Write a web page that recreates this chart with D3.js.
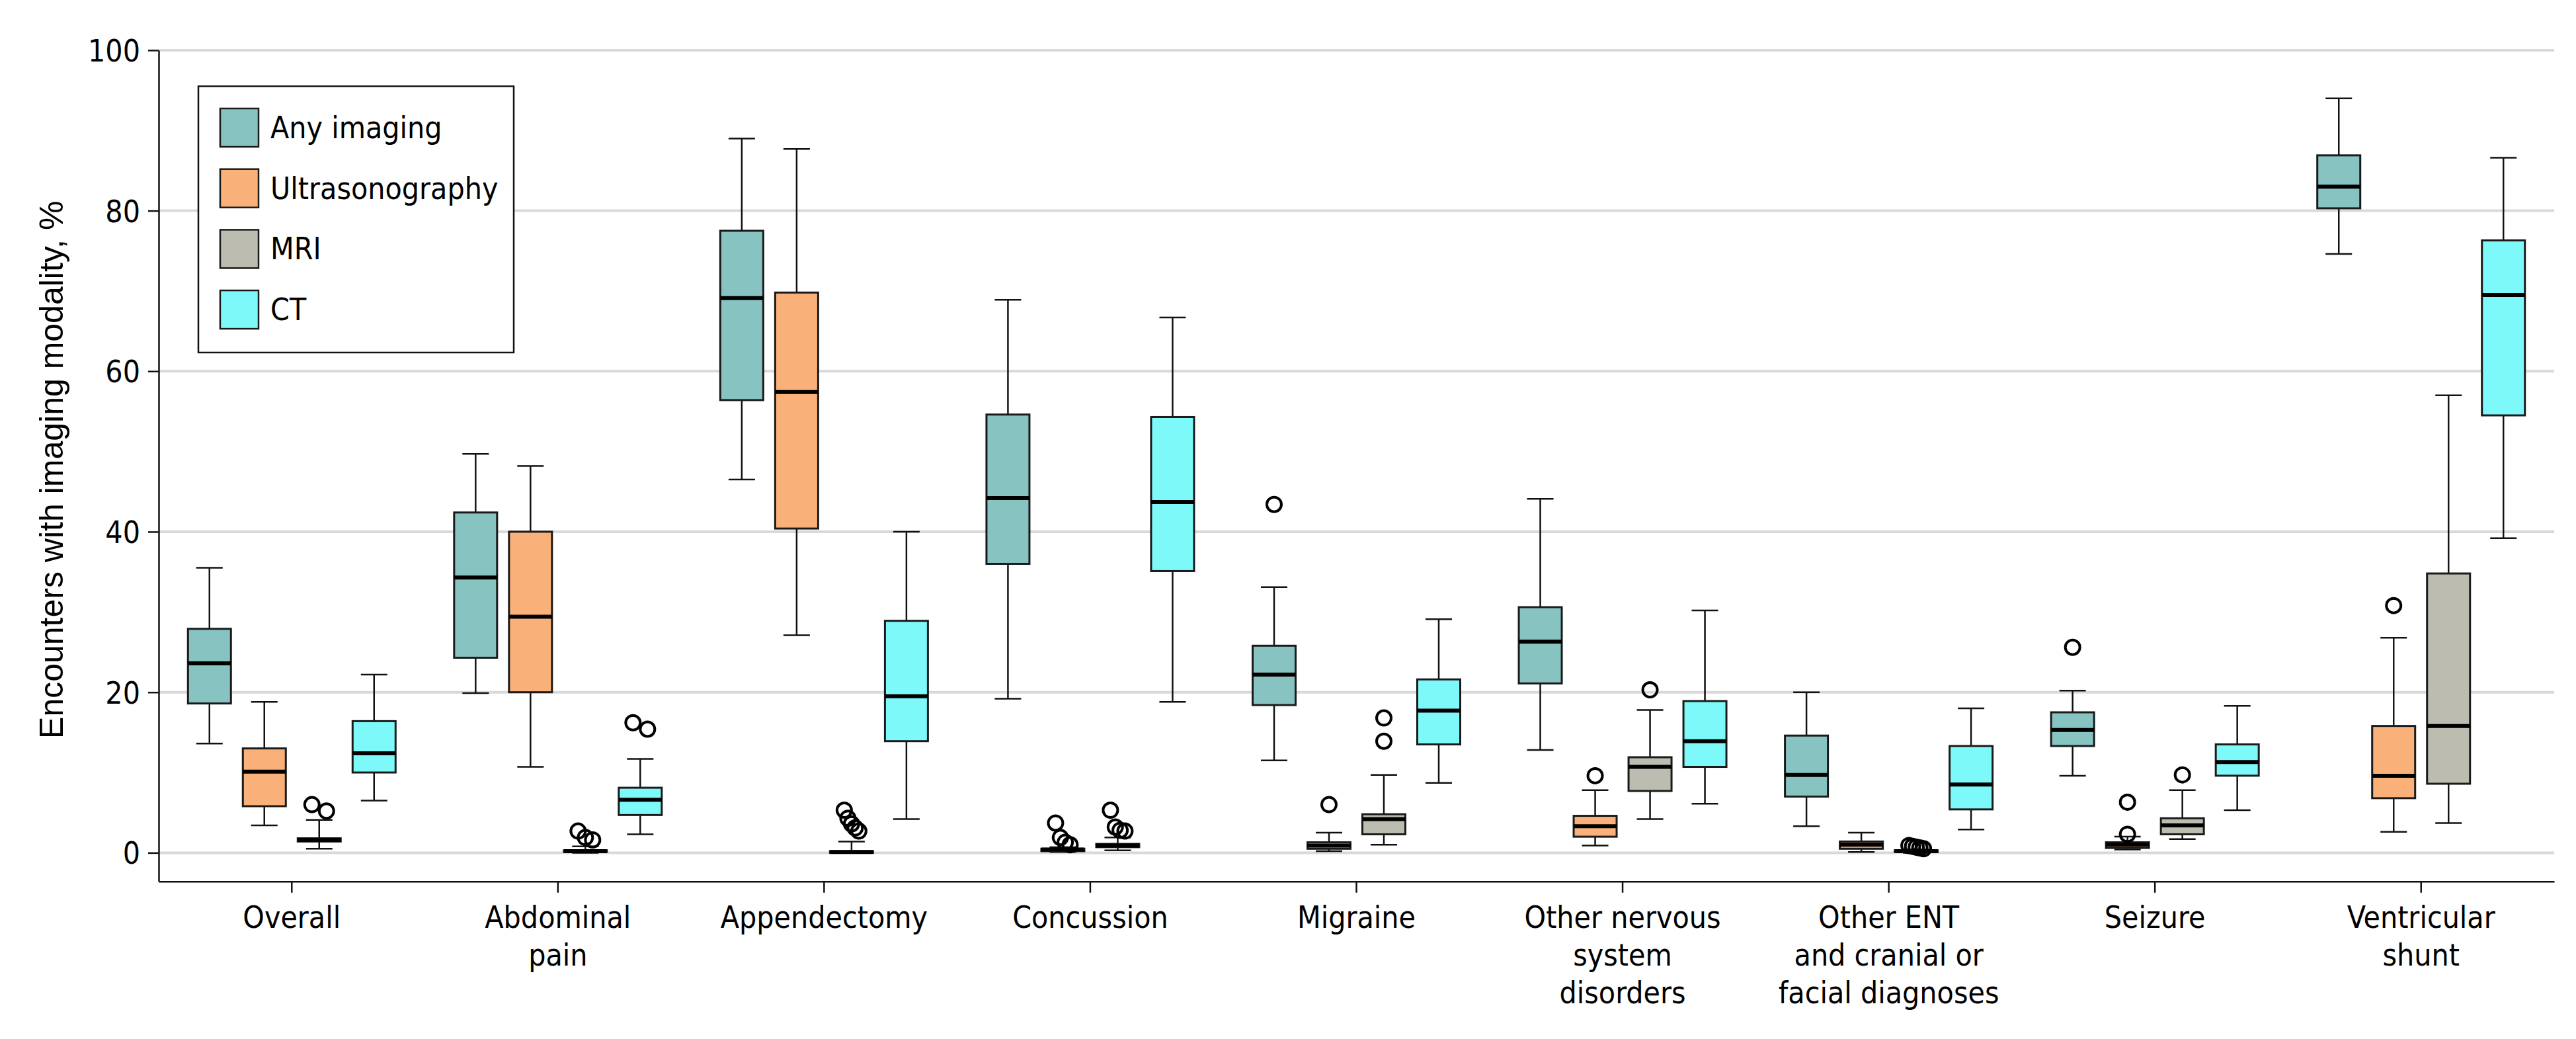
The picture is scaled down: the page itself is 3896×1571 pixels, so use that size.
<!DOCTYPE html>
<html><head><meta charset="utf-8">
<script src="https://cdn.jsdelivr.net/npm/d3@7"></script>
<style>
body{margin:0;background:#fff}
text{font-family:"DejaVu Sans Condensed","DejaVu Sans",sans-serif;font-stretch:condensed;fill:#000}
</style>
</head><body>
<svg id="chart" width="3896" height="1571"></svg>
<script>
// ---------- data ----------
const categories = ["Overall","Abdominal pain","Appendectomy","Concussion","Migraine",
  "Other nervous system disorders","Other ENT and cranial or facial diagnoses","Seizure","Ventricular shunt"];
const categoryLabelLines = [["Overall"],["Abdominal","pain"],["Appendectomy"],["Concussion"],["Migraine"],
  ["Other nervous","system","disorders"],["Other ENT","and cranial or","facial diagnoses"],["Seizure"],["Ventricular","shunt"]];
const modalities = ["Any imaging","Ultrasonography","MRI","CT"];
const modalityColors = ["#86c3c1","#f9b179","#bcbdb0","#7ef9f9"];
const yTicks = [0,20,40,60,80,100];
const yTitle = "Encounters with imaging modality, %";

// rows: categories; columns: Any imaging, Ultrasonography, MRI, CT
const whiskerHigh = [
  [35.5,18.8,4.1,22.2],[49.7,48.2,0.8,11.7],[89.0,87.7,1.4,40.0],[68.9,0.7,1.9,66.7],[33.1,2.5,9.7,29.1],
  [44.1,7.8,17.8,30.2],[20.0,2.5,0.4,18.0],[20.2,2.0,7.8,18.3],[94.0,26.8,57.0,86.6]];
const q3 = [
  [27.9,13.0,1.8,16.4],[42.4,40.0,0.3,8.1],[77.5,69.8,0.2,28.9],[54.6,0.5,1.1,54.3],[25.8,1.3,4.8,21.6],
  [30.6,4.6,11.9,18.9],[14.6,1.4,0.3,13.3],[17.5,1.3,4.3,13.5],[86.9,15.8,34.8,76.3]];
const median = [
  [23.6,10.1,1.6,12.4],[34.3,29.4,0.2,6.6],[69.1,57.4,0.1,19.5],[44.2,0.4,0.9,43.7],[22.2,0.9,4.2,17.7],
  [26.3,3.3,10.7,13.9],[9.7,1.0,0.2,8.5],[15.3,1.0,3.4,11.3],[83.0,9.6,15.8,69.5]];
const q1 = [
  [18.6,5.8,1.4,10.0],[24.3,20.0,0.1,4.7],[56.4,40.4,0.0,13.9],[36.0,0.2,0.7,35.1],[18.4,0.5,2.3,13.5],
  [21.1,2.0,7.7,10.7],[7.0,0.5,0.1,5.4],[13.3,0.6,2.3,9.6],[80.3,6.8,8.6,54.5]];
const whiskerLow = [
  [13.6,3.4,0.5,6.5],[19.9,10.7,0.0,2.3],[46.5,27.1,0.0,4.2],[19.2,0.1,0.3,18.8],[11.5,0.2,1.0,8.7],
  [12.8,0.9,4.2,6.1],[3.3,0.1,0.0,2.9],[9.6,0.4,1.7,5.3],[74.6,2.6,3.7,39.2]];
const outliers = [
  [[],[],[6.0,5.2],[]],
  [[],[],[2.7,1.9,1.6],[16.2,15.4]],
  [[],[],[5.3,4.3,3.6,3.1,2.7],[]],
  [[],[3.7,1.9,1.3,1.0],[5.3,3.2,2.8,2.7],[]],
  [[43.4],[6.0],[16.8,13.9],[]],
  [[],[9.6],[20.3],[]],
  [[],[],[0.9,0.8,0.7,0.6,0.5],[]],
  [[25.6],[6.3,2.3],[9.7],[]],
  [[],[30.8],[],[]]];

// ---------- layout ----------
const plot = {left:240, right:3863, top:75.9, bottom:1332.7};
const svg = d3.select("#chart");

const x = d3.scaleBand().domain(categories).range([plot.left, plot.right]).padding(0);
const inner = d3.scaleBand().domain(modalities).range([-166,166]).paddingInner(0.2169).paddingOuter(0.1084);
const y = d3.scaleLinear().domain([-3.57,100]).range([plot.bottom, plot.top]);

// gridlines
svg.append("g").selectAll("line").data(yTicks).join("line")
  .attr("x1",plot.left).attr("x2",plot.right)
  .attr("y1",d=>y(d)).attr("y2",d=>y(d))
  .attr("stroke","#d9d9d9").attr("stroke-width",4);

// build box records
const boxes = [];
categories.forEach((c,i)=>modalities.forEach((m,j)=>{
  boxes.push({c,m,i,j,
    cx: x(c)+x.bandwidth()/2 + inner(m) + inner.bandwidth()/2,
    lo: whiskerLow[i][j], q1: q1[i][j], med: median[i][j], q3: q3[i][j], hi: whiskerHigh[i][j],
    out: outliers[i][j]});
}));
const bw = inner.bandwidth();
const capW = 40;

const gb = svg.append("g");
boxes.forEach(b=>{
  const g = gb.append("g");
  g.append("line").attr("x1",b.cx).attr("x2",b.cx).attr("y1",y(b.hi)).attr("y2",y(b.q3))
    .attr("stroke","#111").attr("stroke-width",2.5);
  g.append("line").attr("x1",b.cx).attr("x2",b.cx).attr("y1",y(b.q1)).attr("y2",y(b.lo))
    .attr("stroke","#111").attr("stroke-width",2.5);
  g.append("line").attr("x1",b.cx-capW/2).attr("x2",b.cx+capW/2).attr("y1",y(b.hi)).attr("y2",y(b.hi))
    .attr("stroke","#111").attr("stroke-width",2.5);
  g.append("line").attr("x1",b.cx-capW/2).attr("x2",b.cx+capW/2).attr("y1",y(b.lo)).attr("y2",y(b.lo))
    .attr("stroke","#111").attr("stroke-width",2.5);
  g.append("rect").attr("x",b.cx-bw/2).attr("width",bw)
    .attr("y",y(b.q3)).attr("height",Math.max(0,y(b.q1)-y(b.q3)))
    .attr("fill",modalityColors[b.j]).attr("stroke","#1a1a1a").attr("stroke-width",3);
  g.append("line").attr("x1",b.cx-bw/2).attr("x2",b.cx+bw/2).attr("y1",y(b.med)).attr("y2",y(b.med))
    .attr("stroke","#000").attr("stroke-width",6);
});

// outliers with small horizontal dodge for overlapping clusters
const r = 11;
const go = svg.append("g");
boxes.forEach(b=>{
  const vals = b.out.slice().sort((a,c)=>c-a);
  const clusters = [];
  vals.forEach(v=>{
    const last = clusters[clusters.length-1];
    if(last && Math.abs(y(v)-y(last[last.length-1])) < 2*r+4) last.push(v); else clusters.push([v]);
  });
  clusters.forEach(cl=>{
    cl.forEach((v,k)=>{
      const off = cl.length>1 ? -11 + 22*k/(cl.length-1) : 0;
      go.append("circle").attr("cx",b.cx+off).attr("cy",y(v)).attr("r",r)
        .attr("fill","none").attr("stroke","#000").attr("stroke-width",4);
    });
  });
});

// y axis
const yAxis = svg.append("g").attr("transform",`translate(${plot.left},0)`)
  .call(d3.axisLeft(y).tickValues(yTicks).tickSize(16).tickSizeOuter(0).tickPadding(12).tickFormat(d3.format("d")));
yAxis.select(".domain").attr("stroke","#111").attr("stroke-width",2.5);
yAxis.selectAll(".tick line").attr("stroke","#111").attr("stroke-width",2.5);
yAxis.selectAll(".tick text").attr("font-size",46).attr("font-family",null).attr("dy","0.36em");

// x axis
const xAxis = svg.append("g").attr("transform",`translate(0,${plot.bottom})`)
  .call(d3.axisBottom(x).tickSize(17).tickSizeOuter(0).tickFormat(""));
xAxis.select(".domain").attr("stroke","#111").attr("stroke-width",2.5);
xAxis.selectAll(".tick line").attr("stroke","#111").attr("stroke-width",2.5);
xAxis.selectAll(".tick").each(function(d,i){
  const t = d3.select(this).append("text").attr("text-anchor","middle").attr("font-size",46).attr("y",70);
  categoryLabelLines[i].forEach((ln,k)=>{
    t.append("tspan").attr("x",0).attr("dy",k===0?0:57).text(ln);
  });
});

// y title
svg.append("text").attr("transform",`translate(95,${(plot.top+plot.bottom)/2+6}) rotate(-90)`)
  .attr("text-anchor","middle").attr("font-size",50)
  .style("font-family","'Liberation Sans',Arial,sans-serif").style("font-stretch","normal")
  .text(yTitle);

// legend
const lg = svg.append("g");
lg.append("rect").attr("x",300).attr("y",130.5).attr("width",477).attr("height",402.5)
  .attr("fill","#fff").attr("stroke","#111").attr("stroke-width",2.5);
modalities.forEach((m,j)=>{
  const yy = 164 + j*91.7;
  lg.append("rect").attr("x",333).attr("y",yy).attr("width",58).attr("height",58)
    .attr("fill",modalityColors[j]).attr("stroke","#1a1a1a").attr("stroke-width",2.5);
  lg.append("text").attr("x",409).attr("y",yy+29+16).attr("font-size",46).text(m);
});
</script>
</body></html>
